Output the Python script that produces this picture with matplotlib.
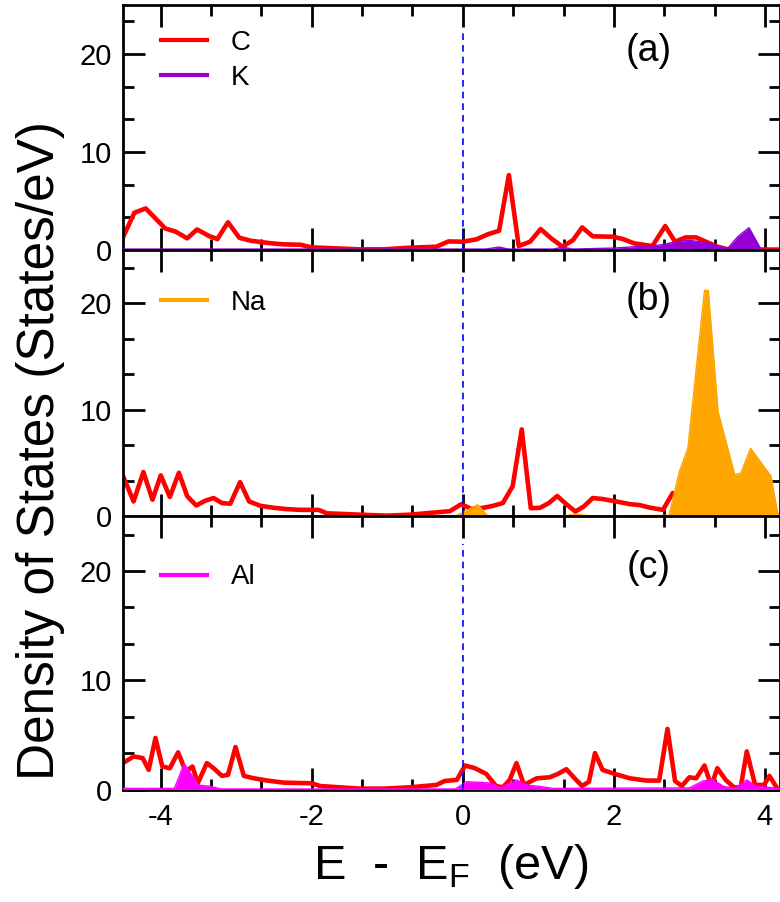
import matplotlib
matplotlib.use("Agg")
import matplotlib.pyplot as plt
from matplotlib.ticker import MultipleLocator

plt.rcParams['font.family'] = ['Liberation Sans', 'DejaVu Sans']
plt.rcParams['mathtext.fontset'] = 'custom'
plt.rcParams['mathtext.rm'] = 'Liberation Sans'
plt.rcParams['axes.unicode_minus'] = False

# panel (a): C and K
c_a_e = [-4.5, -4.35, -4.2, -3.94, -3.80, -3.65, -3.52, -3.36, -3.25, -3.11, -2.96, -2.81, -2.68,
         -2.53, -2.37, -2.15, -2.0, -1.67, -1.36, -1.06, -0.70, -0.35, -0.19, 0.0, 0.18, 0.33,
         0.48, 0.61, 0.74, 0.89, 1.03, 1.17, 1.32, 1.46, 1.58, 1.72, 1.99, 2.12, 2.27, 2.51,
         2.68, 2.81, 2.95, 3.09, 3.24, 3.37, 3.50, 3.65, 3.8, 3.95, 4.2]
c_a_dos = [1.3, 3.8, 4.25, 2.2, 1.87, 1.19, 2.1, 1.43, 1.12, 2.83, 1.26, 0.95, 0.82,
           0.68, 0.58, 0.54, 0.27, 0.17, 0.07, 0.07, 0.24, 0.34, 0.88, 0.85, 1.09, 1.6,
           1.97, 7.65, 0.41, 0.85, 2.14, 1.19, 0.34, 1.02, 2.31, 1.4, 1.36, 1.12, 0.68, 0.41,
           2.45, 0.85, 1.29, 1.29, 0.78, 0.34, 0.1, 0.05, 0.05, 0.05, 0.05]
k_e = [-4.5, 0.3, 0.48, 0.6, 1.2, 1.32, 1.45, 2.0, 2.6, 2.8, 2.98, 3.2, 3.4, 3.5, 3.64, 3.79, 3.95, 4.2]
k_dos = [0.1, 0.1, 0.3, 0.1, 0.1, 0.3, 0.1, 0.2, 0.5, 0.8, 1.0, 0.8, 0.4, 0.1, 1.36, 2.28, 0.05, 0.05]

# panel (b): C and Na
c_b_e = [-4.5, -4.36, -4.23, -4.11, -4.0, -3.88, -3.76, -3.65, -3.53, -3.41, -3.30, -3.19, -3.08,
         -2.95, -2.83, -2.68, -2.50, -2.33, -2.15, -1.91, -1.80, -1.36, -1.01, -0.70, -0.17,
         -0.02, 0.11, 0.27, 0.40, 0.53, 0.66, 0.78, 0.90, 1.02, 1.14, 1.25, 1.37, 1.49, 1.60,
         1.72, 1.85, 2.03, 2.21, 2.34, 2.47, 2.65, 2.78, 2.95, 3.1, 3.3, 3.5, 3.7, 3.9, 4.2]
c_b_dos = [3.8, 1.41, 4.17, 1.57, 3.86, 1.83, 4.1, 1.9, 1.03, 1.48, 1.73, 1.26, 1.19,
           3.22, 1.41, 1.0, 0.81, 0.69, 0.62, 0.62, 0.3, 0.17, 0.08, 0.17, 0.5,
           1.16, 0.71, 0.81, 1.0, 1.26, 2.84, 8.17, 0.78, 0.81, 1.26, 1.92, 1.16, 0.46, 0.93,
           1.73, 1.64, 1.41, 1.16, 1.07, 0.84, 0.62, 2.2, 1.3, 1.3, 0.8, 0.3, 0.2, 0.2, 0.1]
na_e = [-4.5, -0.1, 0.2, 0.33, 1.3, 1.5, 1.7, 2.6, 2.73, 2.87, 2.98, 3.2, 3.25, 3.38, 3.60,
        3.68, 3.81, 4.08, 4.17, 4.2]
na_dos = [0.05, 0.05, 1.1, 0.05, 0.05, 0.2, 0.05, 0.1, 0.1, 4.27, 6.4, 21.2, 21.2, 9.83, 3.95,
          4.05, 6.4, 3.8, 0.3, 0.0]

# panel (c): C and Al
c_c_e = [-4.5, -4.36, -4.24, -4.16, -4.07, -3.98, -3.88, -3.77, -3.67, -3.58, -3.51, -3.39, -3.30,
         -3.19, -3.11, -3.01, -2.90, -2.77, -2.59, -2.37, -2.0, -1.89, -1.36, -1.05, -0.70,
         -0.35, -0.24, -0.08, 0.03, 0.16, 0.31, 0.44, 0.53, 0.62, 0.71, 0.81, 0.98, 1.15, 1.26,
         1.37, 1.48, 1.58, 1.67, 1.75, 1.85, 2.01, 2.21, 2.43, 2.60, 2.71, 2.81, 2.90, 3.00,
         3.09, 3.20, 3.29, 3.37, 3.48, 3.59, 3.68, 3.76, 3.87, 3.99, 4.06, 4.17, 4.2]
c_c_dos = [2.42, 3.03, 2.88, 1.8, 4.72, 2.11, 1.95, 3.4, 1.65, 2.11, 0.57, 2.42, 1.95,
           1.25, 1.34, 3.89, 1.25, 1.03, 0.82, 0.63, 0.57, 0.32, 0.08, 0.08, 0.2,
           0.42, 0.78, 0.88, 2.2, 1.95, 1.43, 0.32, 0.2, 0.88, 2.42, 0.42, 1.03, 1.12, 1.43,
           1.86, 1.03, 0.32, 0.72, 3.34, 1.8, 1.43, 1.03, 0.82, 0.82, 5.55, 0.78, 0.32, 1.12,
           1.03, 2.2, 0.32, 1.95, 0.88, 0.2, 0.2, 3.49, 0.42, 0.42, 1.25, 0.02, 0.0]
al_e = [-4.5, -3.82, -3.69, -3.50, -3.35, -3.2, -0.1, 0.05, 0.36, 0.5, 0.71, 0.85, 1.0, 1.2,
        3.0, 3.18, 3.3, 3.45, 3.6, 3.76, 3.88, 4.2]
al_dos = [0.1, 0.1, 2.35, 0.4, 0.3, 0.05, 0.05, 0.72, 0.6, 0.15, 0.88, 0.4, 0.3, 0.1,
          0.15, 0.78, 0.94, 0.3, 0.1, 0.88, 0.3, 0.1]

panels = [
    ("(a)", c_a_e, c_a_dos, [("K", k_e, k_dos, "#9400d3")]),
    ("(b)", c_b_e, c_b_dos, [("Na", na_e, na_dos, "#ffa500")]),
    ("(c)", c_c_e, c_c_dos, [("Al", al_e, al_dos, "#ff00ff")]),
]

fig = plt.figure(figsize=(7.8, 9.02), dpi=100)
rects = [[0.1577, 0.7228, 0.8423, 0.2716],
         [0.1577, 0.4274, 0.8423, 0.2955],
         [0.1577, 0.1247, 0.8423, 0.3027]]

for i, (tag, ce, cd, others) in enumerate(panels):
    ax = fig.add_axes(rects[i])
    handles = []
    if i == 0:
        h, = ax.plot(ce, cd, color="red", lw=3.3, label="C", zorder=2)
        handles.append(h)
    else:
        ax.plot(ce, cd, color="red", lw=3.3, zorder=2)
    for name, e, d, col in others:
        ax.fill_between(e, 0, d, color=col, lw=0, zorder=3)
        h, = ax.plot(e, d, color=col, lw=1, label=name, zorder=3)
        handles.append(h)
    ax.vlines(0, 0, 22.5, colors="blue", linestyles=(0, (4, 3)), lw=1.2, zorder=4)
    ax.text(2.46, 20.3, tag, fontsize=27, ha="center", va="center")

    ax.set_xlim(-4.5, 4.2)
    ax.set_ylim(0, 25)
    ax.xaxis.set_major_locator(MultipleLocator(2))
    ax.xaxis.set_minor_locator(MultipleLocator(2 / 3))
    ax.set_yticks([0, 10, 20])
    ax.yaxis.set_minor_locator(MultipleLocator(10 / 3))
    ax.tick_params(which="both", direction="in", top=True, right=True, width=2, labelsize=21)
    ax.tick_params(which="major", length=16)
    ax.tick_params(which="minor", length=8)
    ax.tick_params(axis="y", pad=8)
    ax.tick_params(axis="x", pad=10)
    if i < 2:
        ax.tick_params(axis="x", labelbottom=False)
    for sp in ax.spines.values():
        sp.set_linewidth(2)

    leg_top = [0.90, 0.85, 0.825][i]
    leg = ax.legend(handles=handles, loc="upper left",
                    bbox_to_anchor=(0.058, leg_top), frameon=False, fontsize=20,
                    handlelength=1.65, handletextpad=0.85, labelspacing=0.33,
                    borderpad=0, borderaxespad=0)
    for lh in leg.get_lines():
        lh.set_linewidth(3)

fig.text(0.052, 0.5, "Density of States (States/eV)", rotation=90, fontsize=37,
         ha="center", va="center")
fig.text(0.578, 0.026, r"E  -  E$_\mathrm{F}$  (eV)", fontsize=35, ha="center", va="baseline")

fig.savefig("out.png", dpi=100)
